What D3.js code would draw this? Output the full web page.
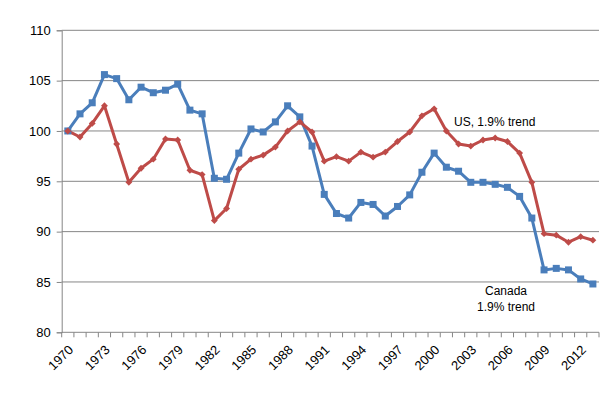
<!DOCTYPE html>
<html>
<head>
<meta charset="utf-8">
<script src="https://cdn.jsdelivr.net/npm/d3@7"></script>
<style>
  body { margin: 0; background: #fff; }
  svg { display: block; }
  text { font-family: "Liberation Sans", Arial, sans-serif; }
</style>
</head>
<body>
<div id="chart"></div>
<script>
// Index values, 1970 = 100
const years = d3.range(1970, 2014);
const canada = [
  100.0, 101.7, 102.8, 105.6, 105.2, 103.1, 104.35, 103.8, 104.05, 104.65,
  102.07, 101.7, 95.3, 95.2, 97.8, 100.2, 99.9, 100.9, 102.5, 101.4,
  98.5, 93.7, 91.8, 91.35, 92.9, 92.7, 91.55, 92.5, 93.65, 95.9,
  97.8, 96.4, 96.0, 94.9, 94.9, 94.7, 94.4, 93.5, 91.35, 86.2,
  86.35, 86.2, 85.3, 84.8
];
const us = [
  100.0, 99.4, 100.75, 102.5, 98.7, 94.9, 96.3, 97.2, 99.2, 99.1,
  96.1, 95.67, 91.1, 92.3, 96.2, 97.2, 97.6, 98.4, 100.0, 100.9,
  99.9, 97.0, 97.45, 97.0, 97.9, 97.4, 97.9, 98.95, 99.9, 101.5,
  102.2, 100.0, 98.7, 98.5, 99.1, 99.3, 98.95, 97.8, 94.9, 89.8,
  89.65, 88.95, 89.5, 89.15
];
const yTicks = [80, 85, 90, 95, 100, 105, 110];
const xLabels = d3.range(1970, 2014, 3);

const width = 616, height = 408;
const margin = { top: 30.3, right: 17, bottom: 75.7, left: 61.7 };

const svg = d3.select('#chart').append('svg')
  .attr('width', width)
  .attr('height', height);

const x = d3.scaleBand()
  .domain(years)
  .range([margin.left, width - margin.right]);

const y = d3.scaleLinear()
  .domain([80, 110])
  .range([height - margin.bottom, margin.top]);

const cx = d => x(d) + x.bandwidth() / 2;

// gridlines
svg.append('g')
  .selectAll('line')
  .data(yTicks.slice(1))
  .enter().append('line')
  .attr('x1', margin.left)
  .attr('x2', width - margin.right)
  .attr('y1', d => y(d))
  .attr('y2', d => y(d))
  .attr('stroke', '#868686')
  .attr('stroke-width', 1);

// y axis
const yAxis = svg.append('g')
  .attr('transform', `translate(${margin.left},0)`)
  .call(d3.axisLeft(y).tickValues(yTicks).tickSize(5).tickPadding(6));
yAxis.select('.domain').attr('stroke', '#868686');
yAxis.selectAll('.tick line').attr('stroke', '#868686');
yAxis.selectAll('.tick text')
  .attr('fill', '#000')
  .style('font-size', '13px');

// x axis: ticks at category boundaries
const xg = svg.append('g')
  .attr('transform', `translate(0,${y(80)})`);
xg.append('line')
  .attr('x1', margin.left)
  .attr('x2', width - margin.right)
  .attr('stroke', '#868686');
xg.selectAll('line.tk')
  .data(years.concat([2014]))
  .enter().append('line')
  .attr('class', 'tk')
  .attr('x1', d => d === 2014 ? width - margin.right : x(d))
  .attr('x2', d => d === 2014 ? width - margin.right : x(d))
  .attr('y1', 0)
  .attr('y2', 5)
  .attr('stroke', '#868686');
xg.selectAll('text')
  .data(xLabels)
  .enter().append('text')
  .attr('transform', d => `translate(${cx(d) + 3},${15}) rotate(-45)`)
  .attr('text-anchor', 'end')
  .attr('dy', '0.35em')
  .attr('fill', '#000')
  .style('font-size', '13px')
  .text(d => d);

// lines
const line = data => d3.line()
  .x((d, i) => cx(years[i]))
  .y(d => y(d))(data);

svg.append('path')
  .attr('d', line(canada))
  .attr('fill', 'none')
  .attr('stroke', '#4a7ebb')
  .attr('stroke-width', 3)
  .attr('stroke-linejoin', 'round');

svg.append('path')
  .attr('d', line(us))
  .attr('fill', 'none')
  .attr('stroke', '#be4b48')
  .attr('stroke-width', 3)
  .attr('stroke-linejoin', 'round');

// markers
svg.append('g')
  .selectAll('rect')
  .data(canada)
  .enter().append('rect')
  .attr('x', (d, i) => cx(years[i]) - 3.5)
  .attr('y', d => y(d) - 3.5)
  .attr('width', 7)
  .attr('height', 7)
  .attr('fill', '#4a7ebb');

svg.append('g')
  .selectAll('path')
  .data(us)
  .enter().append('path')
  .attr('d', d3.symbol(d3.symbolDiamond2, 30))
  .attr('transform', (d, i) => `translate(${cx(years[i])},${y(d)})`)
  .attr('fill', '#be4b48');

// annotations
svg.append('text')
  .attr('x', 454)
  .attr('y', 126)
  .style('font-size', '12px')
  .text('US, 1.9% trend');

svg.append('text')
  .attr('x', 506)
  .attr('y', 295)
  .attr('text-anchor', 'middle')
  .style('font-size', '12px')
  .text('Canada');

svg.append('text')
  .attr('x', 506)
  .attr('y', 311)
  .attr('text-anchor', 'middle')
  .style('font-size', '12px')
  .text('1.9% trend');
</script>
</body>
</html>
